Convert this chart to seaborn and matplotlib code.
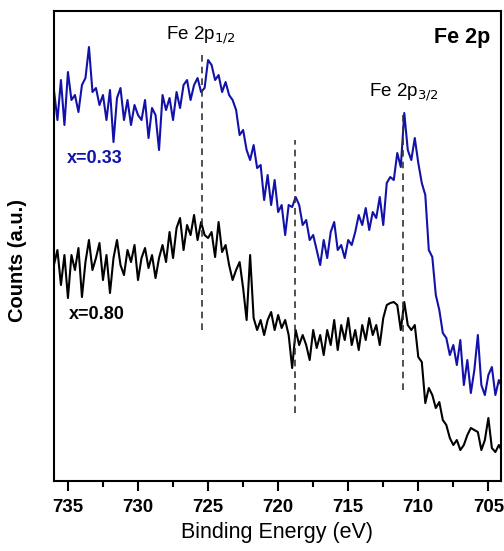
import numpy as np
import pandas as pd
import matplotlib
matplotlib.use("Agg")
import matplotlib.pyplot as plt
import seaborn as sns
from matplotlib.ticker import MultipleLocator

# Binding energy grid (eV)
energy = np.linspace(736.0, 704.0, 129)

# x = 0.33 (blue), counts in arbitrary units
counts_033 = [
    391, 361, 401, 356, 409, 381, 386, 369, 396, 403,
    434, 389, 393, 376, 386, 361, 391, 339, 383, 393,
    361, 381, 356, 376, 366, 361, 381, 343, 373, 366,
    331, 386, 371, 383, 361, 389, 373, 396, 401, 381,
    396, 403, 389, 393, 421, 416, 401, 406, 389, 399,
    386, 381, 371, 346, 351, 331, 321, 336, 313, 316,
    281, 306, 276, 301, 269, 276, 246, 276, 274, 284,
    276, 256, 261, 241, 246, 231, 216, 241, 223, 249,
    259, 231, 236, 223, 241, 236, 249, 266, 256, 273,
    251, 269, 263, 284, 256, 298, 304, 301, 328, 314,
    368, 331, 321, 343, 318, 298, 286, 231, 224, 186,
    171, 148, 143, 126, 136, 116, 141, 96, 121, 88,
    111, 146, 96, 86, 106, 114, 86, 101, 93,
]

# x = 0.80 (black)
counts_080 = [
    216, 231, 196, 226, 183, 226, 211, 233, 184, 219,
    241, 211, 223, 238, 201, 226, 188, 223, 241, 216,
    206, 231, 219, 236, 201, 223, 233, 213, 226, 203,
    223, 236, 219, 249, 223, 253, 263, 231, 256, 246,
    266, 241, 259, 246, 243, 249, 224, 259, 229, 236,
    216, 201, 211, 219, 193, 161, 226, 163, 151, 161,
    146, 161, 169, 151, 166, 153, 161, 146, 113, 151,
    136, 146, 136, 121, 151, 133, 146, 126, 151, 136,
    161, 131, 156, 141, 163, 136, 151, 131, 156, 141,
    163, 146, 156, 136, 163, 176, 178, 179, 176, 151,
    179, 156, 151, 156, 124, 119, 78, 93, 86, 73,
    79, 61, 56, 43, 36, 41, 31, 36, 46, 53,
    51, 49, 31, 41, 63, 33, 29, 36, 29,
]

series_labels = ["x=0.33", "x=0.80"]
peak_positions = [725.4, 718.8, 711.1]
xtick_values = [735, 730, 725, 720, 715, 710, 705]

df = pd.DataFrame({
    "energy": np.concatenate([energy, energy]),
    "counts": np.concatenate([counts_033, counts_080]),
    "sample": [series_labels[0]] * len(energy) + [series_labels[1]] * len(energy),
})

sns.set_style("ticks")
plt.rcParams["font.family"] = ["Liberation Sans", "DejaVu Sans"]
plt.rcParams["text.color"] = "black"
plt.rcParams["axes.labelcolor"] = "black"
plt.rcParams["xtick.color"] = "black"
plt.rcParams["ytick.color"] = "black"

fig = plt.figure(figsize=(5.04, 5.51), dpi=100)
ax = fig.add_axes([0.107, 0.127, 0.887, 0.853])

blue = "#1212aa"
palette = {series_labels[0]: blue, series_labels[1]: "#000000"}
sns.lineplot(data=df, x="energy", y="counts", hue="sample", palette=palette,
             linewidth=1.5, ax=ax, legend=False, sort=False)

# dashed reference lines
dash_spans = [(151, 426), (68, 341), (91, 366)]
for xp, (y0, y1) in zip(peak_positions, dash_spans):
    ax.plot([xp, xp], [y0, y1], ls=(0, (4, 3)), color="#333333", lw=1.2)

ax.set_xlim(736.0, 704.1)
ax.set_ylim(0, 470)
ax.set_xticks(xtick_values)
ax.xaxis.set_minor_locator(MultipleLocator(2.5))
ax.set_yticks([])
ax.tick_params(axis="x", which="major", direction="out", length=7, width=1.5,
               labelsize=13.5, pad=6)
ax.tick_params(axis="x", which="minor", direction="out", length=4, width=1.5)
for lab in ax.get_xticklabels():
    lab.set_fontweight("bold")
for sp in ax.spines.values():
    sp.set_linewidth(1.5)
    sp.set_color("black")

ax.set_xlabel("Binding Energy (eV)", fontsize=15.5, labelpad=4)
ax.set_ylabel("Counts (a.u.)", fontsize=14.5, fontweight="bold")
ax.yaxis.set_label_coords(-0.06, 0.47)

ax.text(704.9, 444, "Fe 2p", fontsize=15.5, fontweight="bold", ha="right", va="center")
ax.text(725.5, 446, r"Fe 2p$_{1/2}$", fontsize=13.5, ha="center", va="center")
ax.text(711.0, 389, r"Fe 2p$_{3/2}$", fontsize=13.5, ha="center", va="center")
ax.text(735.1, 323, "x=0.33", fontsize=13, fontweight="bold", color=blue,
        ha="left", va="center")
ax.text(734.9, 167, "x=0.80", fontsize=13, fontweight="bold", color="#000000",
        ha="left", va="center")

fig.savefig("out.png", dpi=100)
